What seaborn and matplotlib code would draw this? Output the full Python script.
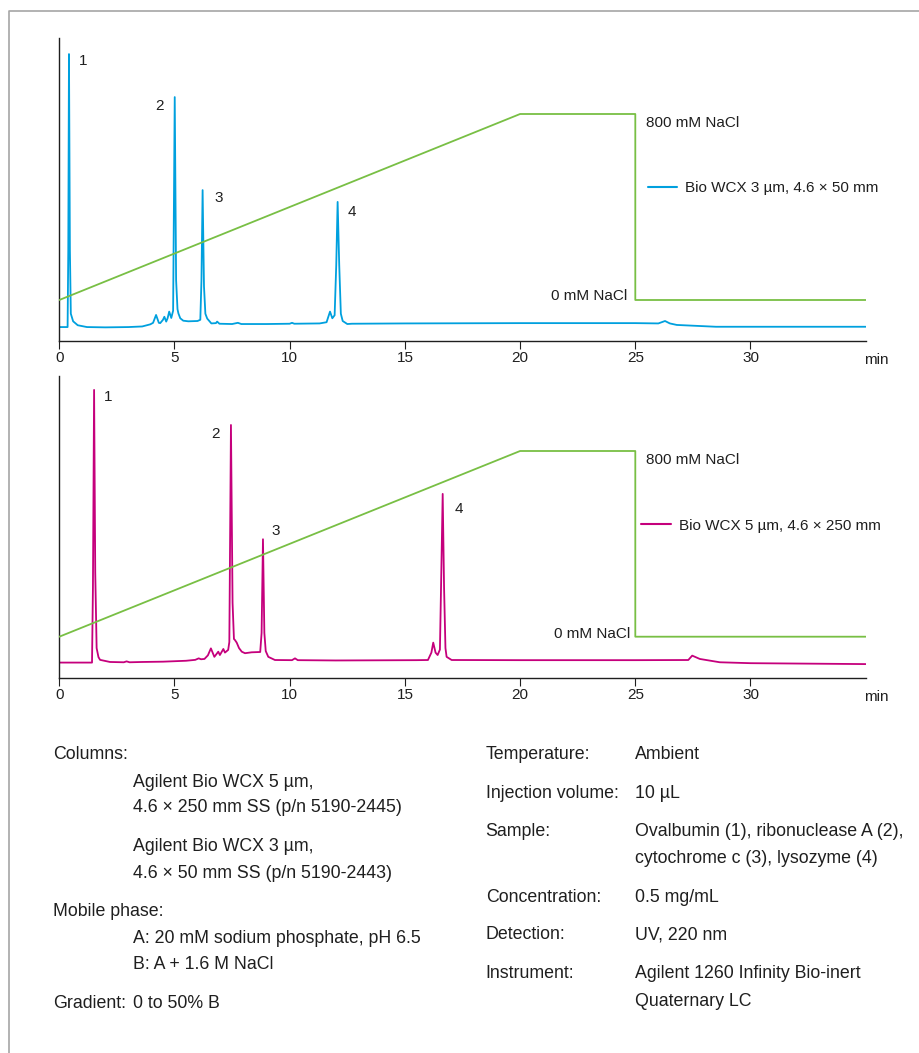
import matplotlib
matplotlib.use("Agg")
import matplotlib.pyplot as plt
import seaborn as sns
import pandas as pd
from matplotlib.lines import Line2D

# ---- Chromatogram, Bio WCX 3 um, 4.6 x 50 mm: time (min) / response (rel. units)
time_3um = [0.00, 0.36, 0.39, 0.42, 0.46, 0.50, 0.60, 0.80, 1.20, 2.00, 3.00, 3.60,
            3.95, 4.07, 4.20, 4.32, 4.38, 4.50, 4.56, 4.64, 4.70, 4.77, 4.86, 4.94,
            5.01, 5.07, 5.13, 5.17, 5.25, 5.38, 5.60, 6.00, 6.12, 6.17, 6.22, 6.28,
            6.34, 6.42, 6.60, 6.80, 6.85, 6.95, 7.50, 7.75, 7.90, 9.00, 10.00, 10.10,
            10.20, 11.30, 11.60, 11.75, 11.85, 11.95, 12.02, 12.08, 12.15, 12.22, 12.30,
            12.50, 12.70, 15.00, 20.00, 25.00, 26.00, 26.29, 26.50, 26.80, 28.50, 35.00]
signal_3um = [4.6, 4.6, 30.0, 94.7, 30.0, 9.0, 6.5, 5.2, 4.6, 4.5, 4.6, 4.8,
              5.5, 6.0, 8.6, 6.0, 5.9, 7.0, 8.0, 6.4, 7.5, 9.7, 7.6, 10.0,
              80.5, 20.0, 10.5, 9.1, 7.5, 6.7, 6.5, 6.6, 7.0, 20.0, 49.8, 18.0,
              9.0, 7.4, 5.8, 5.9, 6.4, 5.7, 5.6, 6.0, 5.6, 5.6, 5.7, 6.0,
              5.7, 5.8, 6.2, 9.7, 7.5, 8.5, 25.0, 45.9, 25.0, 9.0, 6.6,
              5.6, 5.7, 5.8, 5.9, 5.9, 5.8, 6.6, 5.8, 5.3, 4.7, 4.7]

# ---- Chromatogram, Bio WCX 5 um, 4.6 x 250 mm
time_5um = [0.00, 1.42, 1.46, 1.51, 1.56, 1.62, 1.70, 1.77, 2.20, 2.80, 2.92, 3.05,
            3.60, 4.50, 5.50, 5.90, 6.05, 6.15, 6.30, 6.45, 6.58, 6.73, 6.90, 6.97,
            7.12, 7.19, 7.33, 7.38, 7.45, 7.52, 7.58, 7.62, 7.70, 7.80, 7.92, 8.06,
            8.35, 8.72, 8.78, 8.84, 8.90, 8.96, 9.07, 9.36, 10.10, 10.23, 10.35, 12.00,
            15.50, 16.00, 16.15, 16.23, 16.33, 16.42, 16.52, 16.58, 16.64, 16.70, 16.76,
            16.81, 17.03, 20.00, 25.00, 27.30, 27.47, 27.80, 28.67, 30.00, 35.00]
signal_5um = [5.2, 5.2, 30.0, 95.4, 35.0, 10.0, 7.0, 6.1, 5.4, 5.3, 5.6, 5.3,
              5.4, 5.5, 5.8, 6.1, 6.6, 6.3, 6.4, 7.6, 9.9, 7.1, 8.8, 7.7,
              9.7, 8.5, 9.4, 12.0, 83.8, 25.0, 13.0, 12.7, 11.8, 10.0, 8.8, 8.3,
              8.6, 8.7, 15.0, 46.0, 15.0, 9.0, 7.1, 6.05, 6.0, 6.6, 6.0, 5.9,
              6.0, 6.05, 8.5, 11.8, 8.5, 7.7, 9.5, 35.0, 61.0, 30.0, 10.0,
              7.1, 6.05, 6.0, 6.0, 6.05, 7.5, 6.4, 5.3, 5.0, 4.7]

# ---- Salt gradient program (min, mM NaCl)
gradient_time = [0, 20, 25, 25, 35]
gradient_nacl = [0, 800, 800, 0, 0]

# ---- Peak identities and retention times
peak_ids = ["1", "2", "3", "4"]
peak_rt_3um = [0.42, 5.01, 6.22, 12.08]
peak_rt_5um = [1.51, 7.45, 8.84, 16.64]

x_ticks = [0, 5, 10, 15, 20, 25, 30]
legend_3um = "Bio WCX 3 µm, 4.6 × 50 mm"
legend_5um = "Bio WCX 5 µm, 4.6 × 250 mm"

# ---- Method conditions
conditions_left = [
    ("Columns:", 0),
    ("Agilent Bio WCX 5 µm,", 1),
    ("4.6 × 250 mm SS (p/n 5190-2445)", 1),
    ("Agilent Bio WCX 3 µm,", 1),
    ("4.6 × 50 mm SS (p/n 5190-2443)", 1),
    ("Mobile phase:", 0),
    ("A: 20 mM sodium phosphate, pH 6.5", 1),
    ("B: A + 1.6 M NaCl", 1),
    ("Gradient:", 0),
    ("0 to 50% B", 1),
]
conditions_left_y = [759, 787, 812, 851, 878, 916, 943, 969, 1008, 1008]

conditions_right = [
    ("Temperature:", "Ambient"),
    ("Injection volume:", "10 µL"),
    ("Sample:", "Ovalbumin (1), ribonuclease A (2),"),
    ("", "cytochrome c (3), lysozyme (4)"),
    ("Concentration:", "0.5 mg/mL"),
    ("Detection:", "UV, 220 nm"),
    ("Instrument:", "Agilent 1260 Infinity Bio-inert"),
    ("", "Quaternary LC"),
]
conditions_right_y = [759, 798, 836, 863, 902, 939, 978, 1006]

BLUE = "#00a0de"
MAGENTA = "#c5007c"
GREEN = "#78bf44"
INK = "#1f1f1f"

FS_CHART = 11.0   # gradient labels, legend, peak numbers
FS_TICK = 11.0    # axis tick labels and unit
FS_BLOCK = 12.8   # method conditions

sns.set_theme(style="white")
plt.rcParams["font.family"] = ["Liberation Sans", "DejaVu Sans"]
plt.rcParams["text.color"] = INK
plt.rcParams["axes.edgecolor"] = INK
plt.rcParams["xtick.color"] = INK

W, H = 920, 1053
fig = plt.figure(figsize=(W / 100, H / 100), dpi=100)
fig.patch.set_facecolor("white")


def fx(x):
    return x / W


def fy(y):
    return 1 - y / H


# Page frame (top and left edges)
fig.add_artist(Line2D([fx(9), fx(9), fx(W)], [fy(H), fy(11), fy(11)],
                      transform=fig.transFigure, color="#a6a6a6", lw=1.2))


def chromatogram(top, bottom, times, signal, color, rts, label_offsets,
                 grad_frac, legend_xy, legend_text, legend_handle_px,
                 nacl_offsets):
    ax = fig.add_axes([fx(59.3), fy(bottom), fx(865.7) - fx(59.3), fy(top) - fy(bottom)])
    df = pd.DataFrame({"time": times, "signal": signal})
    sns.lineplot(data=df, x="time", y="signal", ax=ax, color=color, lw=1.3,
                 estimator=None, sort=False)
    ax.set_xlim(0, 35)
    ax.set_ylim(0, 100)
    ax.set_xticks(x_ticks)
    ax.set_yticks([])
    ax.set_xlabel("")
    ax.set_ylabel("")
    for s in ["top", "right"]:
        ax.spines[s].set_visible(False)
    for s in ["left", "bottom"]:
        ax.spines[s].set_linewidth(1.0)
        ax.spines[s].set_color(INK)
    ax.tick_params(axis="x", bottom=True, direction="out", length=5.8, width=0.8,
                   pad=1.5, labelsize=FS_TICK, colors=INK)
    ax.patch.set_alpha(0)

    # Peak numbers (offsets in pixels: right, down)
    for pid, rt, (dx, dy) in zip(peak_ids, rts, label_offsets):
        apex = df.loc[(df.time - rt).abs() < 0.15, "signal"].max()
        ax.annotate(pid, xy=(rt, apex), xytext=(dx, -dy), textcoords="offset pixels",
                    ha="center", va="center", fontsize=FS_CHART, color=INK)

    # Salt gradient on a secondary scale
    ax2 = ax.twinx()
    g = pd.DataFrame({"time": gradient_time, "nacl": gradient_nacl})
    sns.lineplot(data=g, x="time", y="nacl", ax=ax2, color=GREEN, lw=1.3,
                 estimator=None, sort=False)
    f0, f800 = grad_frac
    span = 800 / (f800 - f0)
    ax2.set_ylim(-f0 * span, -f0 * span + span)
    ax2.set_xlim(0, 35)
    ax2.set_yticks([])
    ax2.set_ylabel("")
    for s in ax2.spines.values():
        s.set_visible(False)
    (hx, hy), (lx, ly) = nacl_offsets
    ax2.annotate("800 mM NaCl", xy=(25, 800), xytext=(hx, hy),
                 textcoords="offset pixels", ha="left", va="baseline",
                 fontsize=FS_CHART, color=INK)
    ax2.annotate("0 mM NaCl", xy=(25, 0), xytext=(lx, ly),
                 textcoords="offset pixels", ha="right", va="baseline",
                 fontsize=FS_CHART, color=INK)

    handle = Line2D([], [], color=color, lw=1.5)
    ax2.legend([handle], [legend_text], loc="center left",
               bbox_to_anchor=(fx(legend_xy[0]), fy(legend_xy[1])),
               bbox_transform=fig.transFigure, frameon=False, fontsize=FS_CHART,
               handlelength=legend_handle_px / (FS_CHART * 100 / 72),
               handletextpad=0.55, borderpad=0, borderaxespad=0)

    fig.text(fx(876), fy(bottom + 22.5), "min", ha="center", va="baseline",
             fontsize=FS_TICK, color=INK)
    return ax


chromatogram(38, 341, time_3um, signal_3um, BLUE, peak_rt_3um,
             [(14, 7), (-15, 9), (16, 8), (14, 10)],
             ((341 - 300) / 303, (341 - 114) / 303),
             (648, 188), legend_3um, 29, ((11, -12.7), (-8, 0)))

chromatogram(376, 678.3, time_5um, signal_5um, MAGENTA, peak_rt_5um,
             [(14, 7), (-15.5, 9), (12.5, -8), (16.5, 15)],
             ((678.3 - 636.7) / 302.3, (678.3 - 451) / 302.3),
             (641, 525.7), legend_5um, 29.7, ((11, -13), (-5, -1)))

# Method conditions
for (txt, level), y in zip(conditions_left, conditions_left_y):
    fig.text(fx(53 if level == 0 else 133), fy(y), txt, ha="left", va="baseline",
             fontsize=FS_BLOCK, color=INK)
for (lab, val), y in zip(conditions_right, conditions_right_y):
    if lab:
        fig.text(fx(485.7), fy(y), lab, ha="left", va="baseline",
                 fontsize=FS_BLOCK, color=INK)
    fig.text(fx(634.7), fy(y), val, ha="left", va="baseline",
             fontsize=FS_BLOCK, color=INK)

fig.savefig("out.png", dpi=100, facecolor="white")
